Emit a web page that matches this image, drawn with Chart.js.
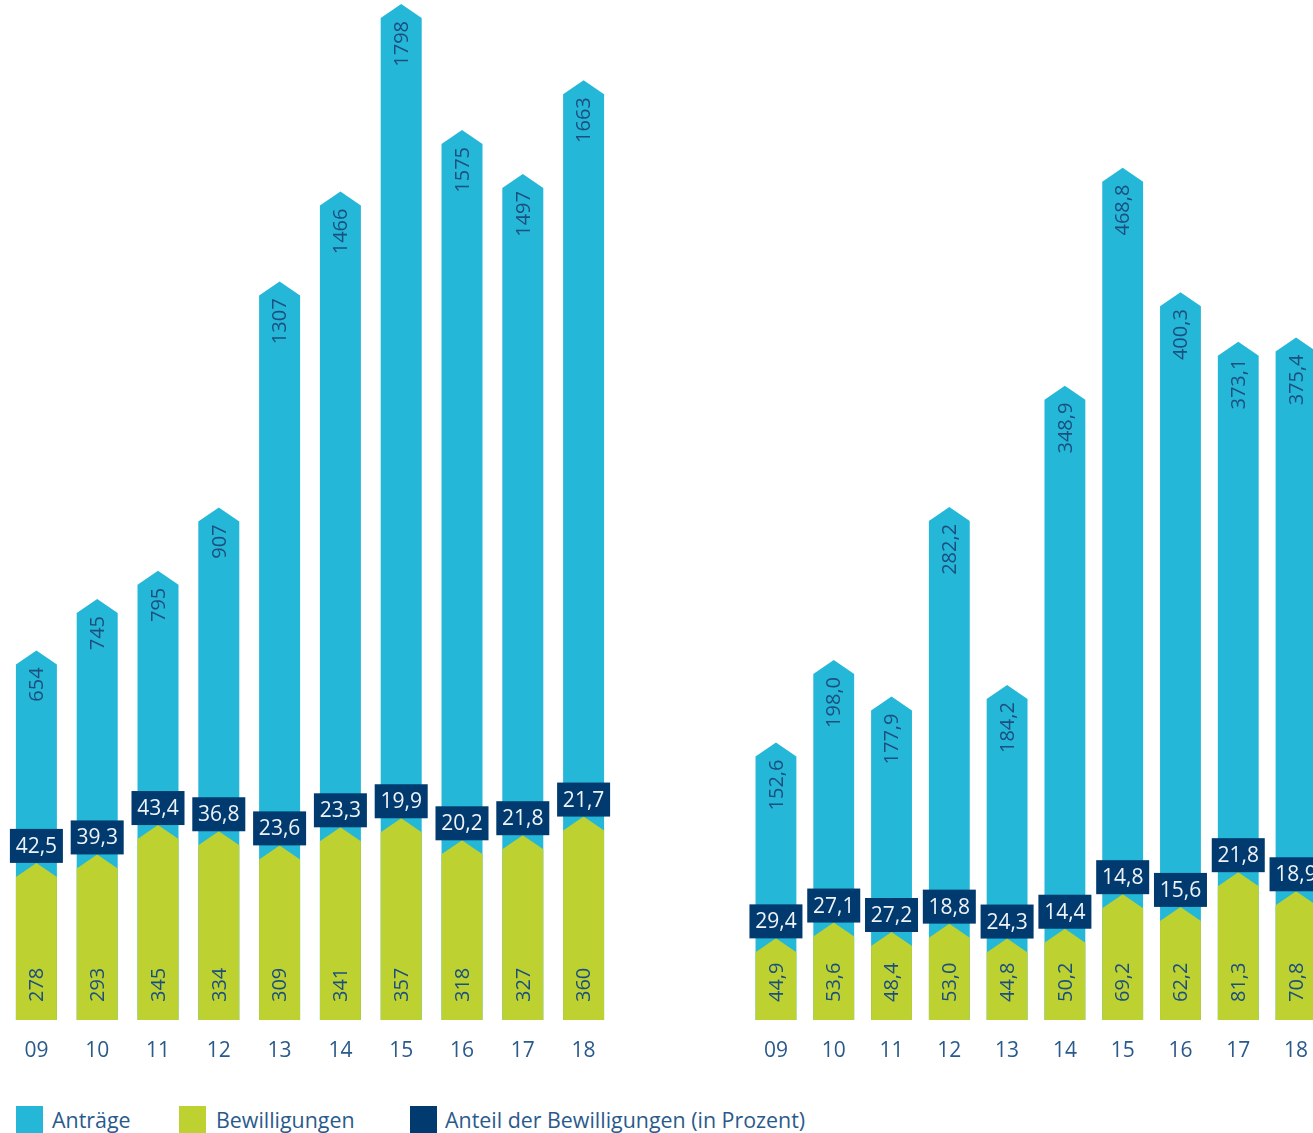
<!DOCTYPE html>
<html lang="de">
<head>
<meta charset="utf-8">
<script src="https://cdn.jsdelivr.net/npm/chart.js@4.4.0/dist/chart.umd.min.js"></script>
<style>
  body { margin:0; width:1313px; height:1133px; overflow:hidden; background:#fff; position:relative; font-family:"Open Sans", sans-serif; }
  canvas { position:absolute; top:0; }
  #left { left:6px; }
  #right { left:746px; }
  .sq { position:absolute; top:1106px; width:27px; height:27px; }
  .lt { position:absolute; top:1106px; line-height:27px; font-size:21.4px; color:#2a5a8c; white-space:nowrap; }
</style>
</head>
<body>
<canvas id="left" width="608" height="1080"></canvas>
<canvas id="right" width="580" height="1080"></canvas>

<div class="sq" style="left:16px;background:#25b7d7"></div>
<div class="lt" style="left:52px">Anträge</div>
<div class="sq" style="left:179px;background:#bdd131"></div>
<div class="lt" style="left:216px">Bewilligungen</div>
<div class="sq" style="left:410px;background:#003a6e"></div>
<div class="lt" style="left:445px">Anteil der Bewilligungen (in Prozent)</div>

<script>
const years = ['09', '10', '11', '12', '13', '14', '15', '16', '17', '18']

// left: Anzahl
const antraegeAnzahl = [654, 745, 795, 907, 1307, 1466, 1798, 1575, 1497, 1663]
const bewilligungenAnzahl = [278, 293, 345, 334, 309, 341, 357, 318, 327, 360]
const anteilAnzahl = [42.5, 39.3, 43.4, 36.8, 23.6, 23.3, 19.9, 20.2, 21.8, 21.7]

// right: Summe
const antraegeSumme = [152.6, 198.0, 177.9, 282.2, 184.2, 348.9, 468.8, 400.3, 373.1, 375.4]
const bewilligungenSumme = [44.9, 53.6, 48.4, 53.0, 44.8, 50.2, 69.2, 62.2, 81.3, 70.8]
const anteilSumme = [29.4, 27.1, 27.2, 18.8, 24.3, 14.4, 14.8, 15.6, 21.8, 18.9]

const BLUE = '#25b7d7'
const GREEN = '#bdd131'
const NAVY = '#003a6e'
const TEXT = '#1b4f80'
const FONT = '"Open Sans", sans-serif'
const TIP = 14

const fmt = (v, d) => v.toFixed(d).replace('.', ',')

const arrowBars = {
  id: 'arrowBars',
  afterDatasetsDraw(chart, args, opts) {
    const ctx = chart.ctx
    const blue = chart.getDatasetMeta(0).data
    const green = chart.getDatasetMeta(1).data

    const shape = (bar, color) => {
      const l = bar.x - bar.width / 2
      const r = bar.x + bar.width / 2
      ctx.fillStyle = color
      ctx.beginPath()
      ctx.moveTo(l, bar.base)
      ctx.lineTo(l, bar.y + TIP)
      ctx.lineTo(bar.x, bar.y)
      ctx.lineTo(r, bar.y + TIP)
      ctx.lineTo(r, bar.base)
      ctx.closePath()
      ctx.fill()
    }

    ctx.save()
    blue.forEach(b => shape(b, BLUE))
    green.forEach(b => shape(b, GREEN))

    ctx.font = '20px ' + FONT
    ctx.fillStyle = TEXT
    ctx.textBaseline = 'middle'
    blue.forEach((b, i) => {
      ctx.save()
      ctx.translate(b.x, b.y + TIP + 3)
      ctx.rotate(-Math.PI / 2)
      ctx.textAlign = 'right'
      ctx.fillText(fmt(chart.data.datasets[0].data[i], opts.decimals), 0, 1)
      ctx.restore()
    })
    green.forEach((b, i) => {
      ctx.save()
      ctx.translate(b.x, b.base - 18)
      ctx.rotate(-Math.PI / 2)
      ctx.textAlign = 'left'
      ctx.fillText(fmt(chart.data.datasets[1].data[i], opts.decimals), 0, 1)
      ctx.restore()
    })

    // percentage boxes sit on the green tip
    ctx.font = '21px ' + FONT
    ctx.textAlign = 'center'
    green.forEach((b, i) => {
      ctx.fillStyle = NAVY
      ctx.fillRect(b.x - 26.5, b.y - 34, 53, 34)
      ctx.fillStyle = '#eef3f8'
      ctx.fillText(fmt(opts.anteil[i], 1), b.x, b.y - 16)
    })
    ctx.restore()
  }
}

function makeChart(id, antraege, bewilligungen, anteil, yMax, barPct, decimals) {
  return new Chart(document.getElementById(id), {
    type: 'bar',
    data: {
      labels: years,
      datasets: [
        { label: 'Anträge', data: antraege, backgroundColor: 'rgba(0,0,0,0)', grouped: false, barPercentage: barPct, categoryPercentage: 1 },
        { label: 'Bewilligungen', data: bewilligungen, backgroundColor: 'rgba(0,0,0,0)', grouped: false, barPercentage: barPct, categoryPercentage: 1 }
      ]
    },
    options: {
      responsive: false,
      animation: false,
      layout: { padding: 0 },
      plugins: {
        legend: { display: false },
        tooltip: { enabled: false },
        arrowBars: { anteil: anteil, decimals: decimals }
      },
      scales: {
        y: { display: false, min: 0, max: yMax },
        x: {
          grid: { display: false, drawTicks: false },
          border: { display: false },
          ticks: { color: '#2a5a8c', font: { family: FONT, size: 21 }, padding: 18 },
          afterFit: (scale) => { scale.height = 60 }
        }
      }
    },
    plugins: [arrowBars]
  })
}

makeChart('left', antraegeAnzahl, bewilligungenAnzahl, anteilAnzahl, 1805, 41 / 60.8, 0)
makeChart('right', antraegeSumme, bewilligungenSumme, anteilSumme, 561, 41 / 58, 1)
</script>
</body>
</html>
